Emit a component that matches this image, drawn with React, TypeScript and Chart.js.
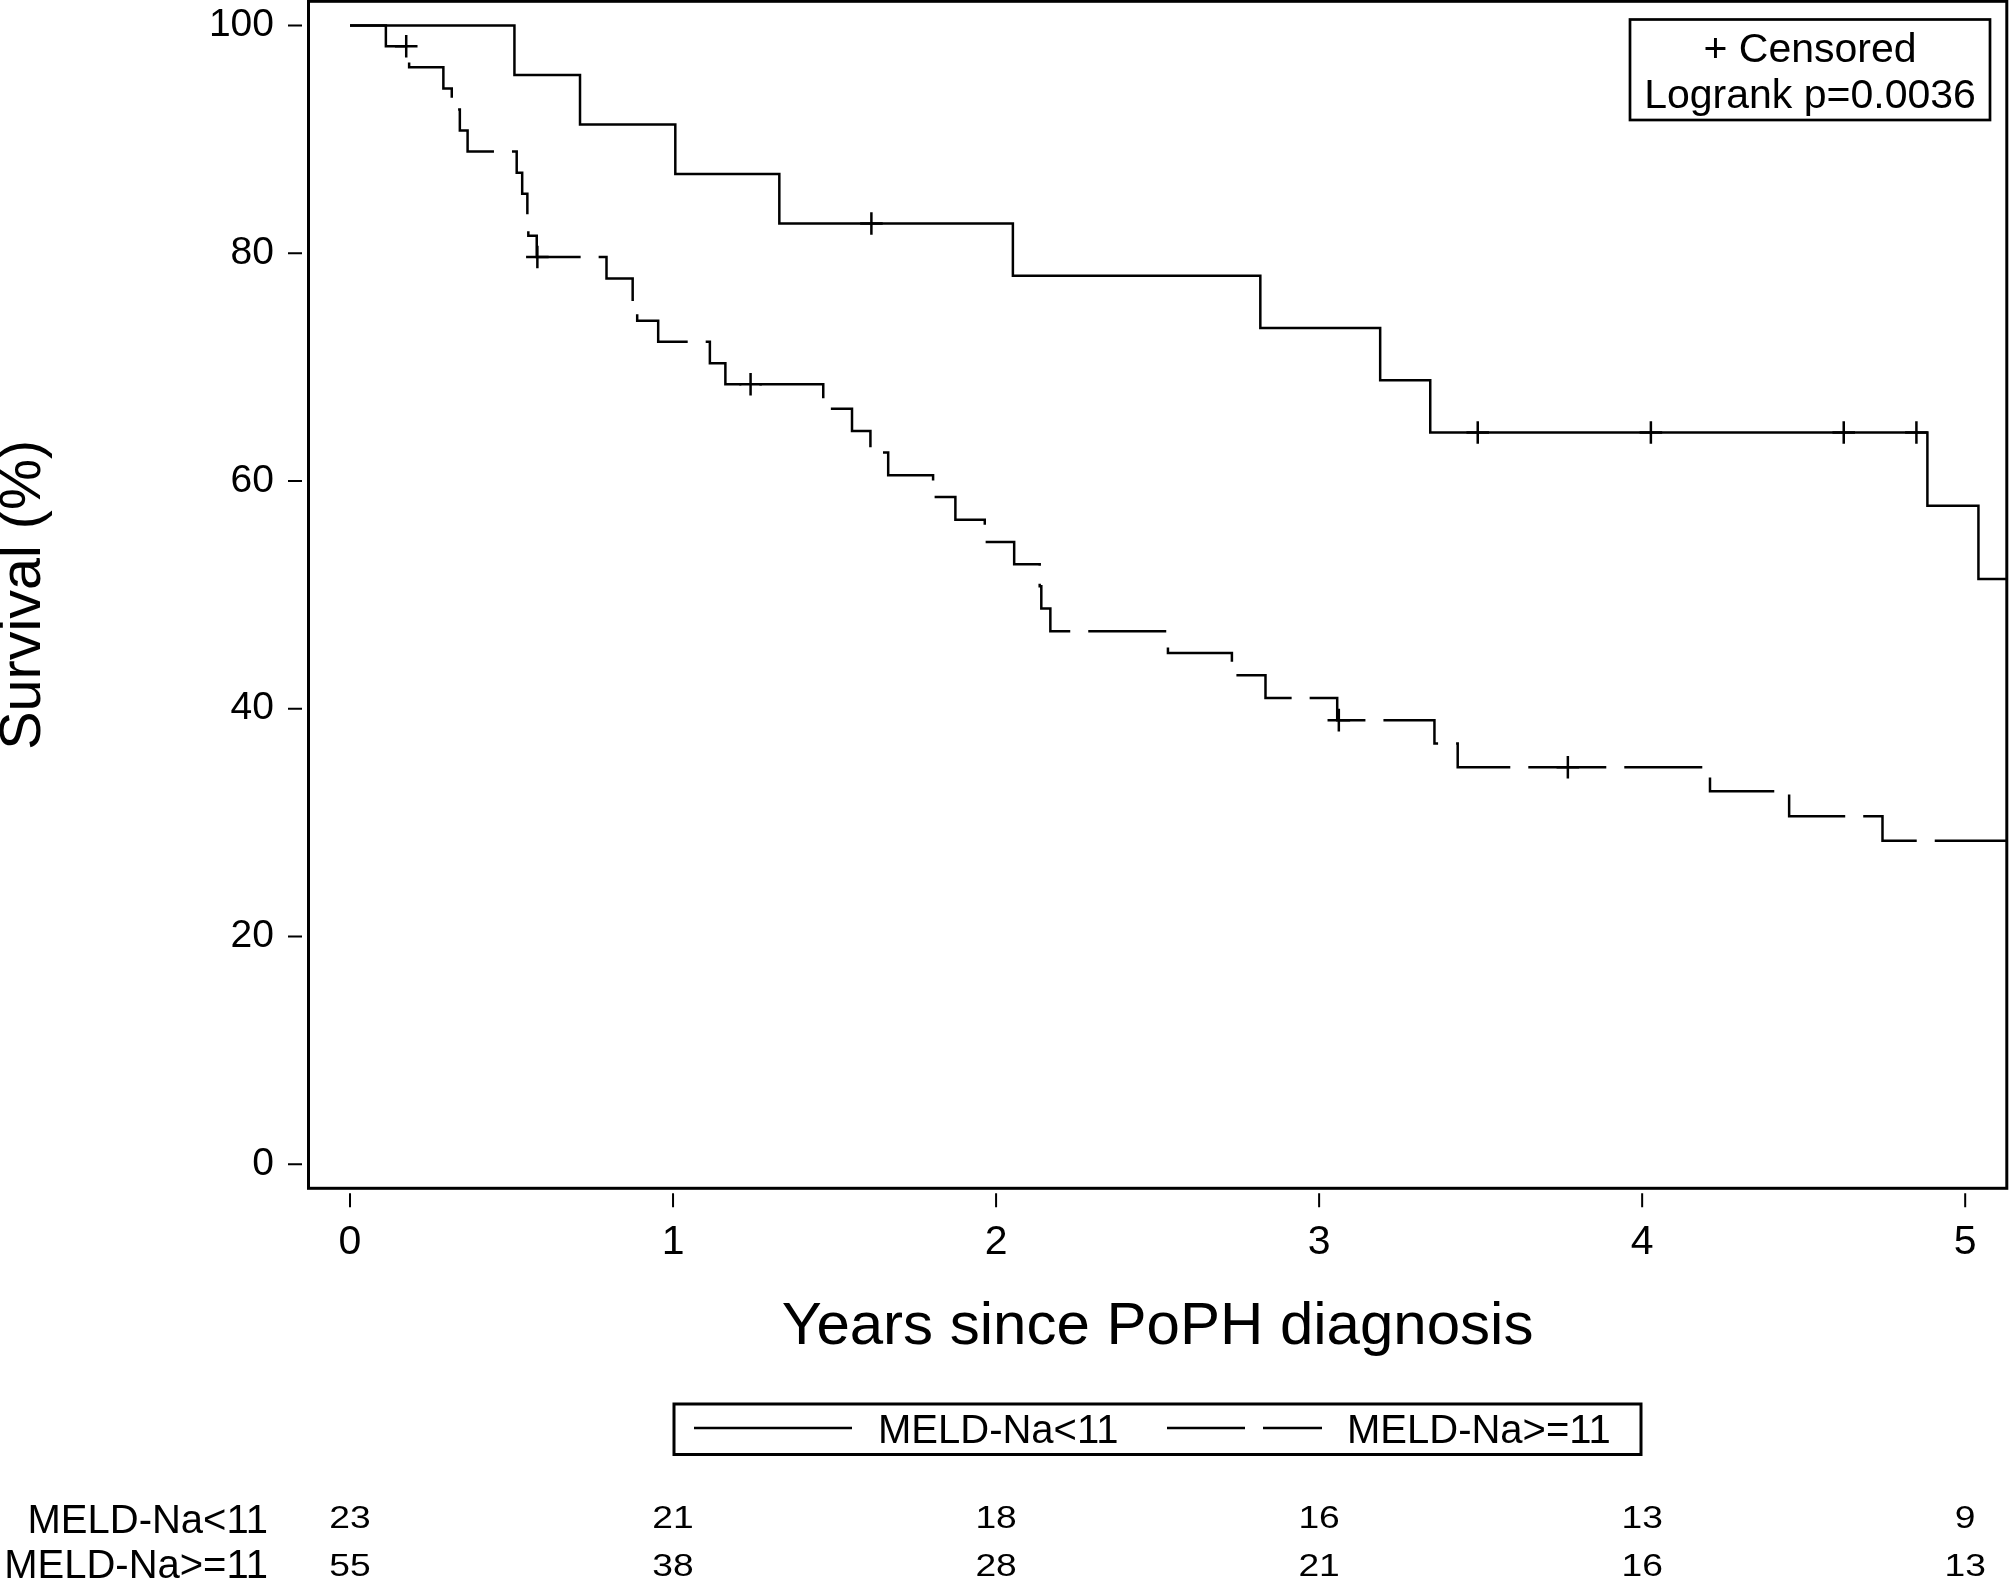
import React, { useEffect, useRef } from 'react';
import { Chart, registerables } from 'chart.js';

Chart.register(...registerables);

// ---- data ----
const xTickValues = [0, 1, 2, 3, 4, 5];
const yTickValues = [0, 20, 40, 60, 80, 100];

const groupLabels = ['MELD-Na<11', 'MELD-Na>=11'];

// MELD-Na<11 (solid): event times (years) and survival (%) after each event
const lowTimes = [0, 0.509, 0.712, 1.007, 1.329, 2.052, 2.818, 3.189, 3.344, 4.883, 5.041, 5.2];
const lowSurvival = [100, 95.65, 91.3, 86.96, 82.61, 78.02, 73.43, 68.85, 64.26, 57.83, 51.4, 51.4];
const lowCensorTimes = [1.614, 3.491, 4.027, 4.624, 4.849];
const lowCensorSurvival = [82.61, 64.26, 64.26, 64.26, 64.26];

// MELD-Na>=11 (dashed)
const highTimes = [
  0, 0.111, 0.183, 0.289, 0.315, 0.34, 0.364, 0.516, 0.533, 0.549, 0.552, 0.578,
  0.794, 0.875, 0.889, 0.954, 1.114, 1.162, 1.465, 1.554, 1.611, 1.666, 1.805, 1.874,
  1.965, 2.056, 2.135, 2.14, 2.168, 2.532, 2.73, 2.834, 3.056, 3.357, 3.429, 4.21,
  4.455, 4.744, 5.2,
];
const highSurvival = [
  100, 98.18, 96.33, 94.48, 92.63, 90.78, 88.93, 87.08, 85.23, 83.38, 81.53, 79.68,
  77.78, 75.93, 74.07, 72.22, 70.35, 68.5, 66.35, 64.4, 62.5, 60.5, 58.6, 56.6,
  54.65, 52.7, 50.75, 48.8, 46.8, 44.9, 42.95, 40.95, 39.0, 36.95, 34.86, 32.75,
  30.55, 28.4, 28.4,
];
const highCensorTimes = [0.174, 0.58, 1.24, 3.061, 3.77];
const highCensorSurvival = [98.18, 79.68, 68.5, 39.0, 34.86];

// numbers at risk
const riskTimes = [0, 1, 2, 3, 4, 5];
const riskLow = [23, 21, 18, 16, 13, 9];
const riskHigh = [55, 38, 28, 21, 16, 13];

const insetLines = ['+ Censored', 'Logrank p=0.0036'];
const xTitle = 'Years since PoPH diagnosis';
const yTitle = 'Survival (%)';

// ---- styling ----
const FONT = "'Liberation Sans', Arial, sans-serif";
const DASH = [78, 18];
const LINE_W = 2.5;

const toPts = (xs: number[], ys: number[]) => xs.map((x, i) => ({ x, y: ys[i] }));

const kmDecor = {
  id: 'kmDecor',
  afterDraw(chart: any) {
    const { ctx, chartArea: a, scales } = chart;
    const xs = scales.x;
    const ys = scales.y;
    ctx.save();
    ctx.strokeStyle = '#000';
    ctx.fillStyle = '#000';
    ctx.setLineDash([]);

    // frame
    ctx.lineWidth = 3;
    ctx.strokeRect(a.left, a.top, a.right - a.left, a.bottom - a.top);

    // tick marks (detached from the frame)
    ctx.lineWidth = 2;
    ctx.beginPath();
    xTickValues.forEach((v) => {
      const px = xs.getPixelForValue(v);
      ctx.moveTo(px, a.bottom + 5);
      ctx.lineTo(px, a.bottom + 19);
    });
    yTickValues.forEach((v) => {
      const py = ys.getPixelForValue(v);
      ctx.moveTo(a.left - 20.5, py);
      ctx.lineTo(a.left - 6.5, py);
    });
    ctx.stroke();

    // inset box
    ctx.lineWidth = 2.7;
    ctx.strokeRect(1630, 19.5, 360, 100.5);
    ctx.font = `41px ${FONT}`;
    ctx.textAlign = 'center';
    ctx.textBaseline = 'alphabetic';
    ctx.fillText(insetLines[0], 1810, 61.5);
    ctx.fillText(insetLines[1], 1810, 108);

    // bottom legend
    ctx.lineWidth = 3;
    ctx.strokeRect(674, 1404, 967, 50.5);
    ctx.lineWidth = LINE_W;
    ctx.beginPath();
    ctx.moveTo(694, 1428);
    ctx.lineTo(852, 1428);
    ctx.stroke();
    ctx.setLineDash(DASH);
    ctx.beginPath();
    ctx.moveTo(1167, 1428);
    ctx.lineTo(1322, 1428);
    ctx.stroke();
    ctx.setLineDash([]);
    ctx.font = `40px ${FONT}`;
    ctx.textAlign = 'left';
    ctx.fillText(groupLabels[0], 878, 1443);
    ctx.fillText(groupLabels[1], 1347, 1443);

    // at-risk table
    ctx.textAlign = 'right';
    ctx.fillText(groupLabels[0], 268, 1533);
    ctx.fillText(groupLabels[1], 268, 1578);
    ctx.font = `31px ${FONT}`;
    ctx.textAlign = 'center';
    const rows: [number[], number][] = [
      [riskLow, 1528],
      [riskHigh, 1576],
    ];
    rows.forEach(([vals, base]) => {
      vals.forEach((n, i) => {
        const px = xs.getPixelForValue(riskTimes[i]);
        ctx.save();
        ctx.translate(px, base);
        ctx.scale(1.2, 1);
        ctx.fillText(String(n), 0, 0);
        ctx.restore();
      });
    });
    ctx.restore();
  },
};

export default function App() {
  const ref = useRef<HTMLCanvasElement | null>(null);

  useEffect(() => {
    document.body.style.margin = '0';
    const canvas = ref.current;
    if (!canvas) return;
    const chart = new Chart(canvas, {
      type: 'line',
      data: {
        datasets: [
          {
            label: groupLabels[0],
            data: toPts(lowTimes, lowSurvival),
            borderColor: '#000',
            borderWidth: LINE_W,
            pointRadius: 0,
            stepped: 'before',
            fill: false,
          },
          {
            label: groupLabels[1],
            data: toPts(highTimes, highSurvival),
            borderColor: '#000',
            borderWidth: LINE_W,
            borderDash: DASH,
            pointRadius: 0,
            stepped: 'before',
            fill: false,
          },
          {
            label: 'censor-low',
            data: toPts(lowCensorTimes, lowCensorSurvival),
            showLine: false,
            pointStyle: 'cross',
            pointRadius: 11.3,
            pointBorderWidth: LINE_W,
            pointBorderColor: '#000',
            borderColor: '#000',
          },
          {
            label: 'censor-high',
            data: toPts(highCensorTimes, highCensorSurvival),
            showLine: false,
            pointStyle: 'cross',
            pointRadius: 11.3,
            pointBorderWidth: LINE_W,
            pointBorderColor: '#000',
            borderColor: '#000',
          },
        ],
      },
      options: {
        responsive: false,
        animation: false,
        devicePixelRatio: 1,
        layout: { autoPadding: false, padding: { left: 0, right: 3.2, top: 1.3, bottom: 0 } },
        plugins: {
          legend: { display: false },
          tooltip: { enabled: false },
        },
        scales: {
          x: {
            type: 'linear',
            min: -0.1285,
            max: 5.1288,
            border: { display: false },
            grid: { display: false, drawTicks: false },
            afterBuildTicks: (s: any) => {
              s.ticks = xTickValues.map((v) => ({ value: v }));
            },
            afterFit: (s: any) => {
              s.height = 390.7;
              s.paddingLeft = 0;
              s.paddingRight = 0;
              s.paddingTop = 0;
              s.paddingBottom = 0;
            },
            ticks: {
              color: '#000',
              padding: 34,
              autoSkip: false,
              maxRotation: 0,
              font: { family: FONT, size: 41, lineHeight: 1 },
              callback: (v: any) => String(v),
            },
            title: {
              display: true,
              text: xTitle,
              color: '#000',
              font: { family: FONT, size: 60, lineHeight: 1 },
              padding: { top: 0, bottom: 222 },
            },
          },
          y: {
            type: 'linear',
            min: -2.116,
            max: 102.13,
            border: { display: false },
            grid: { display: false, drawTicks: false },
            afterBuildTicks: (s: any) => {
              s.ticks = yTickValues.map((v) => ({ value: v }));
            },
            afterFit: (s: any) => {
              s.width = 308.5;
              s.paddingLeft = 0;
              s.paddingRight = 0;
              s.paddingTop = 0;
              s.paddingBottom = 0;
            },
            ticks: {
              color: '#000',
              padding: 34.5,
              autoSkip: false,
              font: { family: FONT, size: 39, lineHeight: 1 },
              callback: (v: any) => String(v),
            },
            title: {
              display: true,
              text: yTitle,
              color: '#000',
              font: { family: FONT, size: 57.5, lineHeight: 0.85 },
              padding: { top: 0, bottom: 0 },
            },
          },
        },
      },
      plugins: [kmDecor],
    } as any);
    return () => chart.destroy();
  }, []);

  return (
    <canvas
      ref={ref}
      width={2010}
      height={1579}
      style={{ display: 'block', width: '2010px', height: '1579px' }}
    />
  );
}
